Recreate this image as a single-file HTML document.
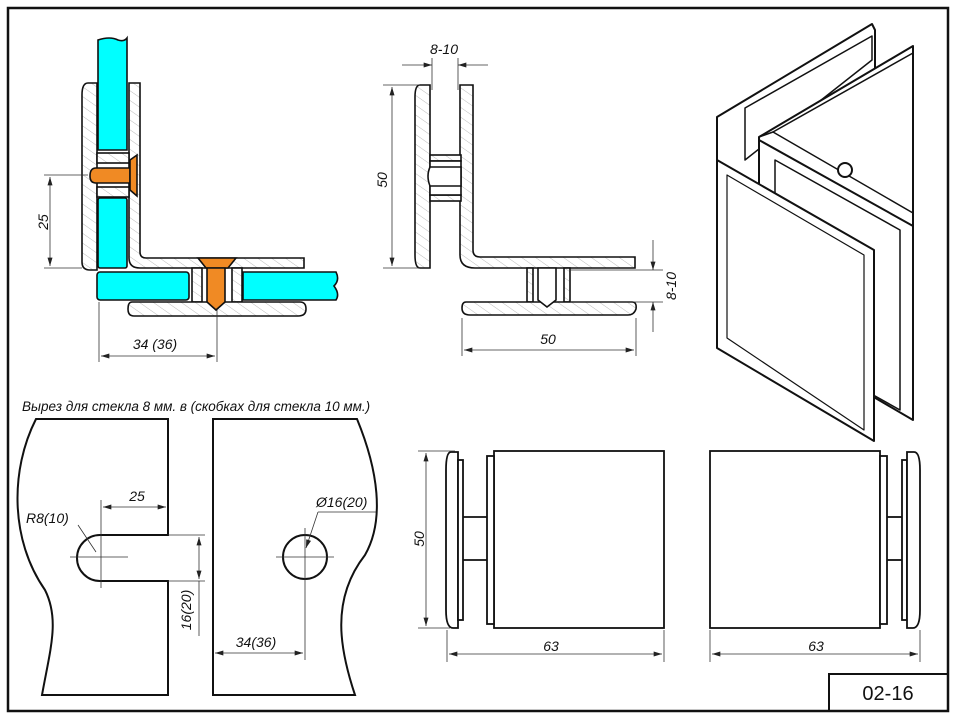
<!DOCTYPE html>
<html><head><meta charset="utf-8"><style>
html,body{margin:0;padding:0;background:#fff;}
svg{display:block;}
text{font-family:"Liberation Sans",sans-serif;fill:#111;}
.it{font-style:italic;}
</style></head><body>
<svg width="957" height="717" viewBox="0 0 957 717" xmlns="http://www.w3.org/2000/svg">
<defs>
<pattern id="h" width="8" height="8" patternUnits="userSpaceOnUse" patternTransform="rotate(-55)">
<rect width="8" height="8" fill="#fff"/><line x1="0" y1="0" x2="0" y2="8" stroke="#bbb" stroke-width="1"/></pattern>
<marker id="a" viewBox="0 0 10 6" refX="10" refY="3" markerWidth="10" markerHeight="5" orient="auto-start-reverse" markerUnits="userSpaceOnUse"><path d="M0,0 L10,3 L0,6z" fill="#222"/></marker>
</defs>
<!-- frame -->
<rect x="8" y="8" width="940" height="703" fill="none" stroke="#111" stroke-width="2.5"/>
<rect x="829" y="674" width="119" height="37" fill="none" stroke="#111" stroke-width="2"/>
<text x="888" y="700" font-size="20" text-anchor="middle">02-16</text>

<!-- ===== Section 1 ===== -->
<g stroke="#111" stroke-width="1.6">
<!-- outer plate -->
<path d="M88,83 Q82,83 82,95 L82,262 Q82,270 90,270 L97,270 L97,83 Z" fill="url(#h)"/>
<!-- inner plate + horizontal -->
<path d="M129,83 L140,83 L140,252 Q140,258 146,258 L304,258 L304,268 L140,268 Q129,268 129,258 Z" fill="url(#h)"/>
<!-- web -->
<rect x="97" y="153" width="32" height="10" fill="url(#h)"/>
<rect x="97" y="187" width="32" height="10" fill="url(#h)"/>
<!-- vertical glass -->
<path d="M98,40 Q110,36 118,40 Q124,42 127,38 L127,150 L98,150 Z" fill="#00ffff"/>
<rect x="98" y="198" width="29" height="70" rx="2" fill="#00ffff"/>
<!-- horizontal glass -->
<rect x="97" y="272" width="92" height="28" rx="3" fill="#00ffff"/>
<path d="M243,272 L336,272 Q340,280 334,286 Q340,294 336,300 L243,300 Z" fill="#00ffff"/>
<!-- stubs -->
<rect x="192" y="268" width="10" height="34" fill="url(#h)"/>
<rect x="232" y="268" width="10" height="34" fill="url(#h)"/>
<!-- bottom plate -->
<path d="M132,302 L300,302 Q306,302 306,309 Q306,316 298,316 L134,316 Q128,316 128,309 Q128,302 132,302 Z" fill="url(#h)"/>
<!-- bolts -->
<path d="M96,168 L130,168 L130,183 L96,183 Q90,183 90,176 Q90,168 96,168 Z" fill="#f08a24"/>
<path d="M130,160 L137,155 L137,196 L130,190 Z" fill="#f08a24"/>
<path d="M198,258 L236,258 L228,268 L206,268 Z" fill="#f08a24"/>
<path d="M207,268 L225,268 L225,302 L216,310 L207,302 Z" fill="#f08a24"/>
</g>
<g stroke="#333" stroke-width="0.8" fill="none">
<line x1="44" y1="175" x2="88" y2="175"/><line x1="44" y1="268" x2="82" y2="268"/>
<line x1="50" y1="177" x2="50" y2="266" marker-start="url(#a)" marker-end="url(#a)"/>
<line x1="99" y1="302" x2="99" y2="362"/><line x1="217" y1="310" x2="217" y2="362"/>
<line x1="101" y1="356" x2="215" y2="356" marker-start="url(#a)" marker-end="url(#a)"/>
</g>
<text class="it" x="48" y="222" font-size="14" text-anchor="middle" transform="rotate(-90 48 222)">25</text>
<text class="it" x="155" y="349" font-size="14" text-anchor="middle">34 (36)</text>

<!-- ===== Section 2 ===== -->
<g stroke="#111" stroke-width="1.6">
<path d="M420,85 L430,85 L430,268 L420,268 Q415,268 415,255 L415,97 Q415,85 420,85 Z" fill="url(#h)"/>
<path d="M460,85 L473,85 L473,250 Q473,257 480,257 L635,257 L635,268 L475,268 Q460,268 460,255 Z" fill="url(#h)"/>
<rect x="430" y="155" width="31" height="6" fill="url(#h)"/>
<rect x="430" y="195" width="31" height="6" fill="url(#h)"/>
<rect x="430" y="161" width="31" height="34" fill="#fff"/>
<rect x="527" y="268" width="6" height="34" fill="url(#h)"/>
<rect x="564" y="268" width="6" height="34" fill="url(#h)"/>
<path d="M466,302 L632,302 Q637,302 636,309 Q634,315 628,315 L470,315 Q462,315 462,308 Q462,302 466,302 Z" fill="url(#h)"/>
<path d="M538,268 L556,268 L556,300 L547,307 L538,300 Z" fill="#fff"/>
<path d="M430,167 L461,167 L461,186 L430,186 Q426,176 430,167 Z" fill="#fff"/>
</g>
<g stroke="#333" stroke-width="0.8" fill="none">
<line x1="432" y1="58" x2="432" y2="90"/><line x1="458" y1="58" x2="458" y2="90"/>
<line x1="402" y1="65" x2="432" y2="65" marker-end="url(#a)"/><line x1="488" y1="65" x2="458" y2="65" marker-end="url(#a)"/>
<line x1="383" y1="85" x2="420" y2="85"/><line x1="383" y1="268" x2="420" y2="268"/>
<line x1="392" y1="87" x2="392" y2="266" marker-start="url(#a)" marker-end="url(#a)"/>
<line x1="570" y1="270" x2="663" y2="270"/><line x1="570" y1="302" x2="663" y2="302"/>
<line x1="653" y1="240" x2="653" y2="270" marker-end="url(#a)"/><line x1="653" y1="332" x2="653" y2="302" marker-end="url(#a)"/>
<line x1="462" y1="318" x2="462" y2="356"/><line x1="636" y1="318" x2="636" y2="356"/>
<line x1="464" y1="350" x2="634" y2="350" marker-start="url(#a)" marker-end="url(#a)"/>
</g>
<text class="it" x="444" y="54" font-size="14" text-anchor="middle">8-10</text>
<text class="it" x="387" y="180" font-size="14" text-anchor="middle" transform="rotate(-90 387 180)">50</text>
<text class="it" x="676" y="286" font-size="14" text-anchor="middle" transform="rotate(-90 676 286)">8-10</text>
<text class="it" x="548" y="344" font-size="14" text-anchor="middle">50</text>

<!-- ===== ISO ===== -->
<g stroke="#111" stroke-width="2" fill="#fff" stroke-linejoin="round">
<path d="M717,117 L872,24 L875,30 L875,200 L717,300 Z"/>
<path d="M745,108 L872,36 L872,60 L745,160 Z" fill="#fff" stroke-width="1.5"/>
<path d="M759,137 L913,46 L913,420 L759,330 Z"/>
<path d="M759,137 L773,132 L913,213" fill="none" stroke-width="1.5"/>
<path d="M773,132 L913,53" fill="none" stroke-width="1.5"/>
<path d="M759,140 L913,226" fill="none"/>
<path d="M775,160 L900,230 L900,410 L775,340 Z" stroke-width="1.5"/>
<circle cx="845" cy="170" r="7"/>
<path d="M717,160 L874,250 L874,441 L717,348 Z"/>
<path d="M727,175 L864,255 L864,430 L727,338 Z" fill="none" stroke-width="1.2"/>
</g>

<!-- ===== Cutouts ===== -->
<text class="it" x="22" y="411" font-size="13.5">Вырез для стекла 8 мм. в (скобках для стекла 10 мм.)</text>
<g stroke="#111" stroke-width="2" fill="none">
<path d="M36,419 L168,419 L168,535 L100,535 A23,23 0 0 0 100,581 L168,581 L168,695 L42,695 C50,650 60,620 45,590 C10,540 10,470 36,419 Z"/>
<path d="M213,419 L357,419 C378,470 385,520 365,555 C330,600 340,650 355,695 L213,695 Z"/>
<circle cx="305" cy="557" r="22"/>
</g>
<g stroke="#333" stroke-width="0.8" fill="none">
<line x1="70" y1="557" x2="128" y2="557"/><line x1="101" y1="500" x2="101" y2="588"/>
<line x1="103" y1="507" x2="166" y2="507" marker-start="url(#a)" marker-end="url(#a)"/>
<line x1="78" y1="525" x2="96" y2="552"/>
<line x1="168" y1="535" x2="205" y2="535"/><line x1="168" y1="581" x2="205" y2="581"/>
<line x1="199" y1="537" x2="199" y2="579" marker-start="url(#a)" marker-end="url(#a)"/>
<line x1="199" y1="581" x2="199" y2="636"/>
<line x1="276" y1="557" x2="334" y2="557"/><line x1="305" y1="528" x2="305" y2="660"/>
<line x1="215" y1="653" x2="303" y2="653" marker-start="url(#a)" marker-end="url(#a)"/>
<line x1="376" y1="512" x2="318" y2="512"/><line x1="318" y1="512" x2="306" y2="548" marker-end="url(#a)"/>
</g>
<text class="it" x="137" y="501" font-size="14" text-anchor="middle">25</text>
<text class="it" x="26" y="523" font-size="14">R8(10)</text>
<text class="it" x="191" y="610" font-size="14" text-anchor="middle" transform="rotate(-90 191 610)">16(20)</text>
<text class="it" x="256" y="647" font-size="14" text-anchor="middle">34(36)</text>
<text class="it" x="316" y="507" font-size="14">Ø16(20)</text>

<!-- ===== Side views ===== -->
<g stroke="#111" stroke-width="1.8" fill="#fff">
<rect x="494" y="451" width="170" height="177"/>
<path d="M451,452 Q446,452 446,470 L446,610 Q446,628 453,628 L458,628 L458,452 Z"/>
<rect x="458" y="460" width="5" height="160"/>
<rect x="487" y="456" width="7" height="168"/>
<line x1="463" y1="517" x2="487" y2="517"/><line x1="463" y1="560" x2="487" y2="560"/>
<rect x="710" y="451" width="170" height="177"/>
<rect x="880" y="456" width="7" height="168"/>
<rect x="902" y="460" width="5" height="160"/>
<path d="M907,452 L914,452 Q920,452 920,470 L920,610 Q920,628 913,628 L907,628 Z"/>
<line x1="887" y1="517" x2="902" y2="517"/><line x1="887" y1="560" x2="902" y2="560"/>
</g>
<g stroke="#333" stroke-width="0.8" fill="none">
<line x1="418" y1="451" x2="455" y2="451"/><line x1="418" y1="628" x2="450" y2="628"/>
<line x1="426" y1="453" x2="426" y2="626" marker-start="url(#a)" marker-end="url(#a)"/>
<line x1="447" y1="630" x2="447" y2="662"/><line x1="664" y1="630" x2="664" y2="662"/>
<line x1="449" y1="654" x2="662" y2="654" marker-start="url(#a)" marker-end="url(#a)"/>
<line x1="710" y1="630" x2="710" y2="662"/><line x1="920" y1="630" x2="920" y2="662"/>
<line x1="712" y1="654" x2="918" y2="654" marker-start="url(#a)" marker-end="url(#a)"/>
</g>
<text class="it" x="424" y="539" font-size="14" text-anchor="middle" transform="rotate(-90 424 539)">50</text>
<text class="it" x="551" y="651" font-size="14" text-anchor="middle">63</text>
<text class="it" x="816" y="651" font-size="14" text-anchor="middle">63</text>
</svg>
</body></html>
